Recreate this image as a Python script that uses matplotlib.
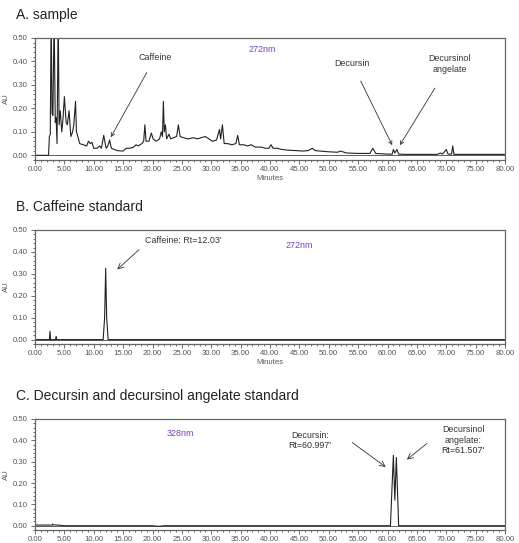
import matplotlib
matplotlib.use("Agg")
from matplotlib import pyplot as plt
from matplotlib.ticker import MultipleLocator, FormatStrFormatter

plt.rcParams['font.family'] = ['Liberation Sans', 'DejaVu Sans']

# A. sample, 272nm trace (minutes, AU)
a_time = [0, 2.3, 2.45, 2.6, 2.75, 2.9, 3.05, 3.25, 3.45, 3.6, 3.75, 3.95, 4.1, 4.3,
          4.55, 4.75, 5.0, 5.3, 5.5, 5.8, 6.1, 6.4, 6.6, 6.9, 7.05, 7.3, 7.6, 8.2,
          8.8, 9.1, 9.4, 9.7, 10.0, 10.6, 11.0, 11.3, 11.7, 12.1, 12.4, 12.7, 13.0,
          13.5, 14.0, 15.0, 15.5, 16.2, 16.8, 17.2, 17.5, 18.2, 18.5, 18.7, 18.9,
          19.4, 19.8, 20.1, 20.6, 21.2, 21.5, 21.7, 21.85, 22.0, 22.2, 22.4, 22.8,
          23.1, 23.6, 24.1, 24.4, 24.7, 25.3, 26.0, 27.0, 27.6, 28.3, 29.0, 29.6,
          30.2, 30.9, 31.4, 31.6, 31.9, 32.2, 32.8, 33.5, 34.2, 34.5, 34.8, 35.5,
          36.2, 36.8, 37.5, 38.5, 39.2, 39.8, 40.2, 40.5, 41.2, 42.0, 43.0, 44.5,
          45.5, 46.5, 47.2, 47.7, 48.5, 50.0, 51.5, 52.0, 53.0, 55.0, 57.0, 57.5,
          58.0, 60.0, 60.8, 61.0, 61.25, 61.6, 61.9, 63.0, 68.5, 69.0, 69.3, 69.7,
          70.0, 70.3, 70.9, 71.1, 71.3, 80.0]
a_au = [0.0, 0.0, 0.08, 0.09, 0.60, 0.18, 0.17, 0.60, 0.14, 0.16, 0.05, 0.60, 0.13, 0.19,
        0.10, 0.15, 0.25, 0.14, 0.13, 0.19, 0.08, 0.10, 0.13, 0.23, 0.10, 0.08, 0.05, 0.045,
        0.04, 0.06, 0.05, 0.055, 0.03, 0.03, 0.04, 0.03, 0.085, 0.03, 0.04, 0.065, 0.03,
        0.025, 0.02, 0.018, 0.03, 0.03, 0.035, 0.045, 0.04, 0.05, 0.06, 0.13, 0.06,
        0.06, 0.095, 0.07, 0.06, 0.07, 0.10, 0.08, 0.23, 0.10, 0.13, 0.07, 0.09,
        0.07, 0.075, 0.08, 0.13, 0.08, 0.075, 0.07, 0.075, 0.07, 0.075, 0.08, 0.07,
        0.06, 0.065, 0.11, 0.07, 0.13, 0.05, 0.05, 0.045, 0.05, 0.085, 0.045, 0.045,
        0.04, 0.045, 0.035, 0.035, 0.03, 0.03, 0.045, 0.03, 0.03, 0.025, 0.022, 0.02,
        0.018, 0.02, 0.03, 0.02, 0.018, 0.015, 0.013, 0.018, 0.01, 0.008, 0.008, 0.03,
        0.008, 0.005, 0.005, 0.025, 0.01, 0.025, 0.005, 0.004, 0.004, 0.01, 0.005, 0.015,
        0.025, 0.005, 0.005, 0.04, 0.004, 0.004]

# B. caffeine standard, 272nm
b_time = [0, 2.45, 2.55, 2.65, 3.5, 3.6, 3.7, 11.6, 11.85, 12.03, 12.2, 12.45, 80]
b_au = [0.0, 0.0, 0.038, 0.0, 0.0, 0.015, 0.0, 0.0, 0.10, 0.325, 0.10, 0.0, 0.0]

# C. decursin / decursinol angelate standard, 328nm
c_time = [0, 2.9, 3.0, 3.1, 4.0, 5.0, 20.0, 21.0, 22.0, 60.5, 60.997, 61.25, 61.507, 61.9, 80]
c_au = [0.003, 0.003, 0.008, 0.004, 0.003, 0.0, 0.0, -0.003, 0.0, 0.0, 0.33, 0.12, 0.32, 0.0, 0.0]

titles = ["A. sample", "B. Caffeine standard", "C. Decursin and decursinol angelate standard"]

W, H = 519, 543
fig = plt.figure(figsize=(W / 100, H / 100), dpi=100)

gray = "#555555"
txt = "#333333"
purple = "#7b3fbf"
fs_tick = 5.6
fs_note = 6.4

def panel(top, bottom, t, y, title, xlabel=True):
    ax = fig.add_axes([35 / W, 1 - bottom / H, 470 / W, (bottom - top) / H])
    ax.plot(t, y, color="#222222", lw=0.8)
    ax.axhline(0, color="#444444", lw=0.6, zorder=0)
    ax.set_xlim(0, 80)
    ax.set_ylim(-0.02, 0.5)
    ax.xaxis.set_major_locator(MultipleLocator(5))
    ax.xaxis.set_minor_locator(MultipleLocator(1))
    ax.yaxis.set_major_locator(MultipleLocator(0.1))
    ax.yaxis.set_minor_locator(MultipleLocator(0.02))
    ax.xaxis.set_major_formatter(FormatStrFormatter("%.2f"))
    ax.yaxis.set_major_formatter(FormatStrFormatter("%.2f"))
    ax.tick_params(which="both", direction="out", colors=gray, labelsize=fs_tick, width=0.6)
    ax.tick_params(which="major", length=3, pad=2)
    ax.tick_params(axis="x", which="major", pad=1.5)
    ax.tick_params(which="minor", length=1.5)
    for s in ax.spines.values():
        s.set_color("#666666")
        s.set_linewidth(0.9)
    ax.set_ylabel("AU", fontsize=fs_tick, color=gray, labelpad=2)
    if xlabel:
        ax.set_xlabel("Minutes", fontsize=fs_tick, color=gray, labelpad=1.5)
    fig.text(16 / W, 1 - (top - 23) / H, title, fontsize=10, color="#222222", va="center")
    return ax

ax1 = panel(38, 160, a_time, a_au, titles[0])
ax1.text(38.6, 0.45, "272nm", fontsize=fs_note, color=purple, ha="center", va="center")
ax1.annotate("Caffeine", xy=(12.9, 0.077), xytext=(20.4, 0.415), fontsize=fs_note, color=txt,
             ha="center", va="center",
             arrowprops=dict(arrowstyle="->", color=txt, lw=0.6, shrinkA=6, shrinkB=0))
ax1.annotate("Decursin", xy=(60.8, 0.043), xytext=(54, 0.39), fontsize=fs_note, color=txt,
             ha="center", va="center",
             arrowprops=dict(arrowstyle="->", color=txt, lw=0.6, shrinkA=8, shrinkB=0))
ax1.annotate("Decursinol\nangelate", xy=(62.1, 0.043), xytext=(70.6, 0.39), fontsize=fs_note,
             color=txt, ha="center", va="center", linespacing=1.2,
             arrowprops=dict(arrowstyle="->", color=txt, lw=0.6, shrinkA=10, shrinkB=0))

ax2 = panel(230, 344, b_time, b_au, titles[1])
ax2.text(45, 0.43, "272nm", fontsize=fs_note, color=purple, ha="center", va="center")
ax2.text(18.7, 0.45, "Caffeine: Rt=12.03'", fontsize=fs_note, color=txt, ha="left", va="center")
ax2.annotate("", xy=(14, 0.32), xytext=(17.7, 0.41),
             arrowprops=dict(arrowstyle="->", color=txt, lw=0.6, shrinkA=0, shrinkB=0))

# panel C sits at the very bottom; its "Minutes" label falls outside the image
ax3 = panel(419, 530, c_time, c_au, titles[2], xlabel=False)
ax3.text(24.8, 0.43, "328nm", fontsize=fs_note, color=purple, ha="center", va="center")
ax3.text(46.8, 0.40, "Decursin:\nRt=60.997'", fontsize=fs_note, color=txt, ha="center",
         va="center", linespacing=1.2)
ax3.annotate("", xy=(59.7, 0.275), xytext=(54, 0.39),
             arrowprops=dict(arrowstyle="->", color=txt, lw=0.6, shrinkA=0, shrinkB=0))
ax3.text(72.9, 0.40, "Decursinol\nangelate:\nRt=61.507'", fontsize=fs_note, color=txt,
         ha="center", va="center", linespacing=1.2)
ax3.annotate("", xy=(63.3, 0.31), xytext=(66.7, 0.385),
             arrowprops=dict(arrowstyle="->", color=txt, lw=0.6, shrinkA=0, shrinkB=0))

fig.savefig("out.png", dpi=100)
